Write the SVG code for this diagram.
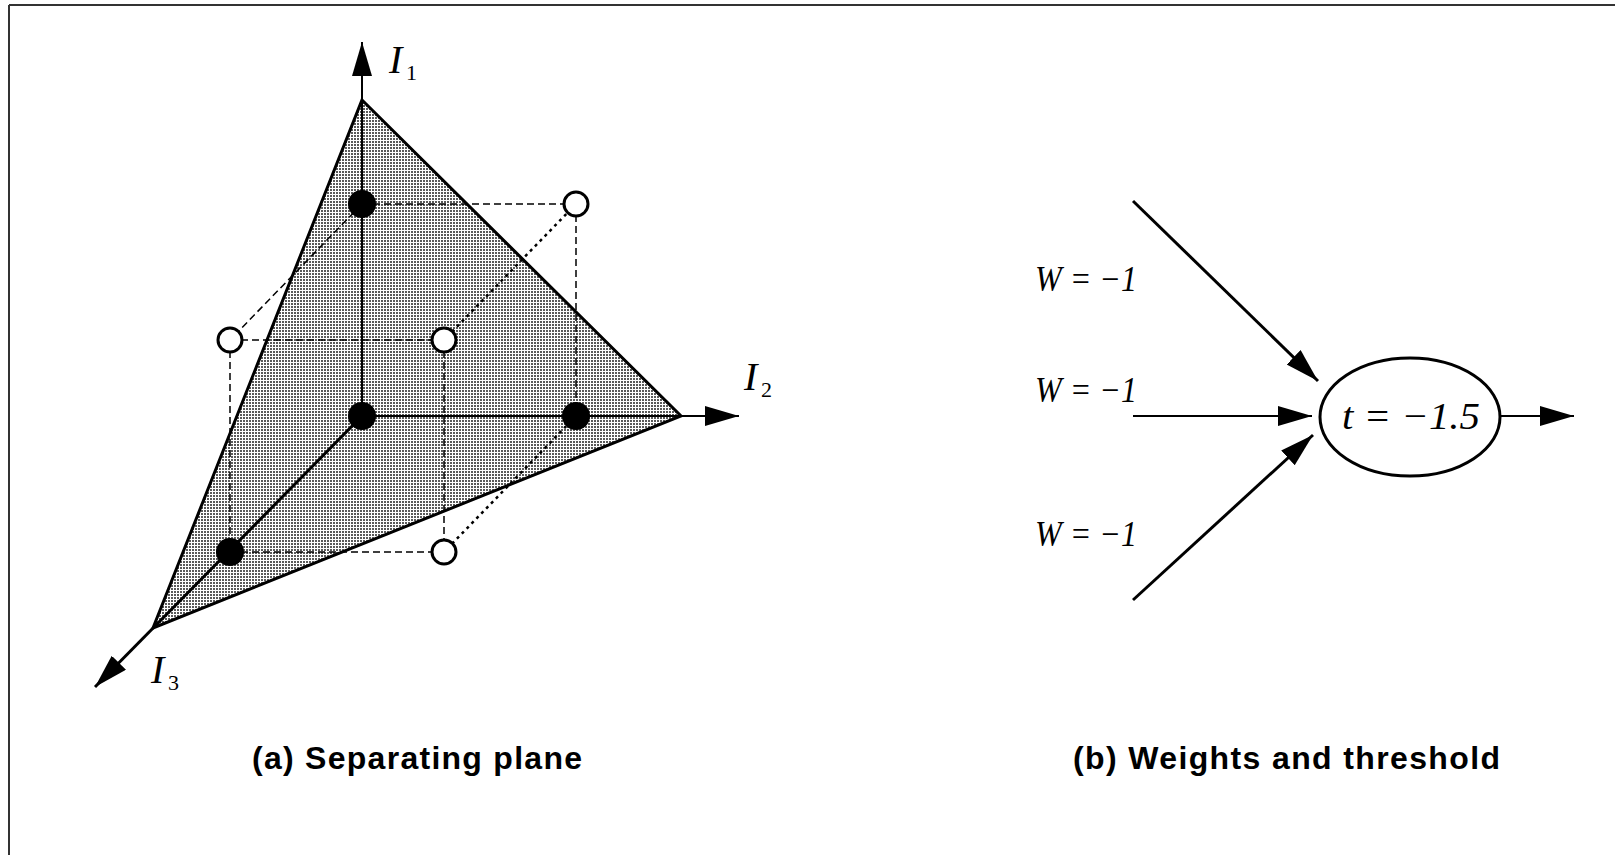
<svg xmlns="http://www.w3.org/2000/svg" width="1615" height="855" viewBox="0 0 1615 855">
<defs>
<pattern id="dots" width="3" height="3" patternUnits="userSpaceOnUse"><rect width="3" height="3" fill="#fff"/><rect width="2" height="2" fill="#5a5a5a"/></pattern>
<marker id="ah" markerWidth="36" markerHeight="22" refX="34" refY="10" orient="auto" markerUnits="userSpaceOnUse"><path d="M0,0 L34,10 L0,20 z" fill="#000"/></marker>
</defs>
<style>
.frame{stroke:#333;stroke-width:2;fill:none}
.dash{stroke:#000;stroke-width:1.5;stroke-dasharray:7 4;fill:none}
.dot{stroke:#000;stroke-width:2.5;stroke-dasharray:3 4;fill:none}
.axis{stroke:#000;stroke-width:2;fill:none}
.edge{stroke:#000;stroke-width:3;fill:none}
.filled{fill:#000}
.open{fill:#fff;stroke:#000;stroke-width:3}
.lbl{font-family:"Liberation Serif",serif;font-style:italic;font-size:36px;fill:#000}
.tl{font-family:"Liberation Serif",serif;font-style:italic;font-size:38px;fill:#000}
.ax{font-family:"Liberation Serif",serif;font-style:italic;font-size:40px;fill:#000}
.sub{font-family:"Liberation Serif",serif;font-size:22px;fill:#000}
.cap{font-family:"Liberation Sans",Arial,sans-serif;font-weight:bold;font-size:32px;fill:#000}
</style>
<g id="frame"><line class="frame" x1="9" y1="5" x2="1615" y2="5"/><line class="frame" x1="9" y1="5" x2="9" y2="855"/></g>
<g id="plane"><polygon points="362,100 681,416 153,628" fill="url(#dots)"/></g>
<g id="connectors">
<line class="dash" x1="362" y1="204" x2="576" y2="204"/>
<line class="dash" x1="362" y1="204" x2="230" y2="340"/>
<line class="dot" x1="576" y1="204" x2="444" y2="340"/>
<line class="dash" x1="576" y1="204" x2="576" y2="416"/>
<line class="dash" x1="230" y1="340" x2="444" y2="340"/>
<line class="dash" x1="230" y1="340" x2="230" y2="552"/>
<line class="dash" x1="444" y1="340" x2="444" y2="552"/>
<line class="dash" x1="230" y1="552" x2="444" y2="552"/>
<line class="dot" x1="576" y1="416" x2="444" y2="552"/>
<line class="axis" x1="362" y1="416" x2="362" y2="42" marker-end="url(#ah)"/>
<line class="axis" x1="362" y1="416" x2="739" y2="416" marker-end="url(#ah)"/>
<line class="edge" x1="362" y1="416" x2="95" y2="687" marker-end="url(#ah)"/>
<polygon class="edge" points="362,100 681,416 153,628"/>
<line class="edge" x1="1133" y1="201" x2="1318" y2="381" marker-end="url(#ah)"/>
<line class="axis" x1="1133" y1="416" x2="1312" y2="416" marker-end="url(#ah)"/>
<line class="edge" x1="1133" y1="600" x2="1313" y2="435" marker-end="url(#ah)"/>
<line class="axis" x1="1500" y1="416" x2="1574" y2="416" marker-end="url(#ah)"/>
</g>
<g id="p100"><circle class="filled" cx="362" cy="204" r="14"/></g>
<g id="p000"><circle class="filled" cx="362" cy="416" r="14"/></g>
<g id="p010"><circle class="filled" cx="576" cy="416" r="14"/></g>
<g id="p001"><circle class="filled" cx="230" cy="552" r="14"/></g>
<g id="p110"><circle class="open" cx="576" cy="204" r="12"/></g>
<g id="p101"><circle class="open" cx="230" cy="340" r="12"/></g>
<g id="p111"><circle class="open" cx="444" cy="340" r="12"/></g>
<g id="p011"><circle class="open" cx="444" cy="552" r="12"/></g>
<g id="labelI1"><text class="ax" x="389" y="73">I</text><text class="sub" x="406" y="80">1</text></g>
<g id="labelI2"><text class="ax" x="744" y="390">I</text><text class="sub" x="761" y="397">2</text></g>
<g id="labelI3"><text class="ax" x="151" y="683">I</text><text class="sub" x="168" y="690">3</text></g>
<g id="w1"><text class="lbl" x="1035" y="291" textLength="102" lengthAdjust="spacingAndGlyphs">W = −1</text></g>
<g id="w2"><text class="lbl" x="1035" y="402" textLength="102" lengthAdjust="spacingAndGlyphs">W = −1</text></g>
<g id="w3"><text class="lbl" x="1035" y="546" textLength="102" lengthAdjust="spacingAndGlyphs">W = −1</text></g>
<g id="neuron"><ellipse cx="1410" cy="417" rx="90" ry="59" fill="#fff" stroke="#000" stroke-width="3"/><text class="tl" x="1342" y="429" textLength="138" lengthAdjust="spacingAndGlyphs">t = −1.5</text></g>
<g id="captionA"><text class="cap" x="252" y="769" textLength="330">(a) Separating plane</text></g>
<g id="captionB"><text class="cap" x="1073" y="769" textLength="427">(b) Weights and threshold</text></g>
</svg>
